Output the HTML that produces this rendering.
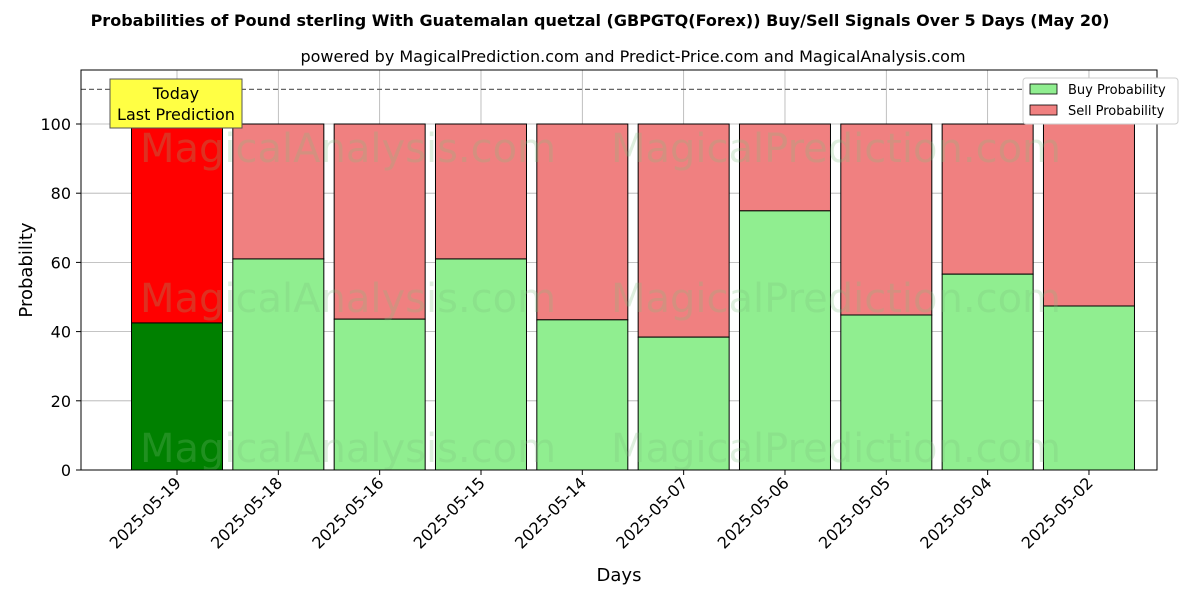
<!DOCTYPE html>
<html><head><meta charset="utf-8"><style>
body{margin:0;background:#fff;font-family:"Liberation Sans","DejaVu Sans",sans-serif}
svg text{font-family:"DejaVu Sans","Liberation Sans",sans-serif}
</style></head><body>
<svg id="chart" width="1200" height="600" xmlns="http://www.w3.org/2000/svg">
<rect width="1200" height="600" fill="#fff"/>
<text x="600" y="26" text-anchor="middle" font-size="16" font-weight="bold">Probabilities of Pound sterling With Guatemalan quetzal (GBPGTQ(Forex)) Buy/Sell Signals Over 5 Days (May 20)</text>
<text x="633" y="62" text-anchor="middle" font-size="16">powered by MagicalPrediction.com and Predict-Price.com and MagicalAnalysis.com</text>
<g id="grid"></g>
<g id="bars"></g>
<g font-size="40" fill="#7fc07f" opacity="0.25">
<text x="348" y="162" text-anchor="middle">MagicalAnalysis.com</text>
<text x="836" y="162" text-anchor="middle">MagicalPrediction.com</text>
<text x="348" y="312" text-anchor="middle">MagicalAnalysis.com</text>
<text x="836" y="312" text-anchor="middle">MagicalPrediction.com</text>
<text x="348" y="462" text-anchor="middle">MagicalAnalysis.com</text>
<text x="836" y="462" text-anchor="middle">MagicalPrediction.com</text>
</g>
<line x1="81" x2="1157" y1="89.4" y2="89.4" stroke="#666" stroke-width="1.2" stroke-dasharray="5,3"/>
<rect x="81" y="70" width="1076" height="400" fill="none" stroke="#000" stroke-width="1"/>
<g id="axes"></g>
<g>
<rect x="110" y="79" width="132" height="49" fill="#ffff44" stroke="#555" stroke-width="1"/>
<text x="176" y="99" text-anchor="middle" font-size="16">Today</text>
<text x="176" y="120" text-anchor="middle" font-size="16">Last Prediction</text>
</g>
<text transform="translate(32,270) rotate(-90)" text-anchor="middle" font-size="18">Probability</text>
<text x="619" y="581" text-anchor="middle" font-size="18">Days</text>
<g>
<rect x="1023" y="78" width="155" height="46" fill="#fff" stroke="#ccc" rx="3"/>
<rect x="1030" y="84" width="27" height="10" fill="lightgreen" stroke="#000" stroke-width="0.8"/>
<text x="1068" y="94" font-size="13">Buy Probability</text>
<rect x="1030" y="105" width="27" height="10" fill="lightcoral" stroke="#000" stroke-width="0.8"/>
<text x="1068" y="115" font-size="13">Sell Probability</text>
</g>
</svg>
<script>
const categories=["2025-05-19","2025-05-18","2025-05-16","2025-05-15","2025-05-14","2025-05-07","2025-05-06","2025-05-05","2025-05-04","2025-05-02"];
const buyValues=[42.5,61.0,43.6,61.0,43.4,38.4,74.9,44.8,56.6,47.4];
const yTicks=[0,20,40,60,80,100];
const NS="http://www.w3.org/2000/svg";
const x=i=>177+i*101.33;
const y=v=>470-v*3.46;
const bw=91;
function mk(t,a,p){const e=document.createElementNS(NS,t);for(const k in a)e.setAttribute(k,a[k]);p.appendChild(e);return e;}
const grid=document.getElementById('grid'),bars=document.getElementById('bars'),axes=document.getElementById('axes');
yTicks.forEach(t=>{
 const l=mk('line',{x1:81,x2:1157,y1:y(t),y2:y(t),stroke:'#b0b0b0','stroke-width':0.8},grid);
 
 
 mk('line',{x1:76,x2:81,y1:y(t),y2:y(t),stroke:'#000'},axes);
 const tx=mk('text',{x:71,y:y(t)+6,'text-anchor':'end','font-size':16},axes);tx.textContent=t;
 
 
});
categories.forEach((c,i)=>{
 const l=mk('line',{x1:x(i),x2:x(i),y1:70,y2:470,stroke:'#b0b0b0','stroke-width':0.8},grid);
 
 
 const b=buyValues[i];
 const s=mk('rect',{x:x(i)-bw/2,y:y(100),width:bw,height:y(b)-y(100),fill:i==0?'#ff0000':'lightcoral',stroke:'#000','stroke-width':1},bars);
 
 
 const r=mk('rect',{x:x(i)-bw/2,y:y(b),width:bw,height:y(0)-y(b),fill:i==0?'#008000':'lightgreen',stroke:'#000','stroke-width':1},bars);
 
 
 mk('line',{x1:x(i),x2:x(i),y1:470,y2:475,stroke:'#000'},axes);
 const tx=mk('text',{transform:`translate(${x(i)+5},${484}) rotate(-45)`,'text-anchor':'end','font-size':16},axes);tx.textContent=c;
 
 
});
</script>
</body></html>
